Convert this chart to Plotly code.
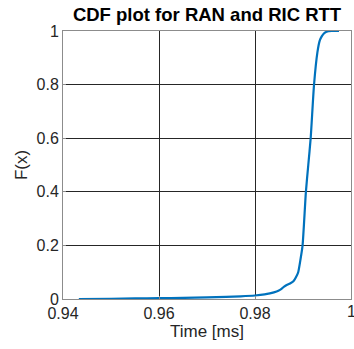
import plotly.graph_objects as go

# CDF curve
time_ms = [0.9433, 0.9500, 0.9550, 0.9600, 0.9650, 0.9700, 0.9740, 0.9770, 0.9800,
           0.9820, 0.9831, 0.9845, 0.9852, 0.9860, 0.9866, 0.9873, 0.9880, 0.9885,
           0.9890, 0.9895, 0.9899, 0.9906, 0.9911, 0.9916, 0.9923, 0.9930, 0.9935,
           0.9939, 0.9943, 0.9949, 0.9960, 0.9975]
cdf = [0.000, 0.001, 0.002, 0.003, 0.004, 0.006, 0.008, 0.010, 0.013,
       0.017, 0.021, 0.028, 0.034, 0.045, 0.052, 0.058, 0.066, 0.080,
       0.100, 0.150, 0.198, 0.399, 0.500, 0.600, 0.800, 0.920, 0.965,
       0.980, 0.990, 0.997, 1.000, 1.000]

x_tick_vals = [0.94, 0.96, 0.98]
x_tick_text = ["0.94", "0.96", "0.98"]
x_last_tick = 1.0
x_last_text = "1"
y_tick_vals = [0, 0.2, 0.4, 0.6, 0.8, 1.0]
y_tick_text = ["0", "0.2", "0.4", "0.6", "0.8", "1"]

fig = go.Figure()
fig.add_trace(go.Scatter(x=time_ms, y=cdf, mode="lines",
                         line=dict(color="#0072BD", width=2.2, shape="spline", smoothing=0.6),
                         showlegend=False))

font_family = "Liberation Sans, Arial, sans-serif"
tick_color = "#262626"
fig.update_layout(
    width=354, height=349,
    margin=dict(l=63, r=3, t=31, b=50),
    paper_bgcolor="white", plot_bgcolor="white",
    font=dict(family=font_family, size=16, color=tick_color),
    title=dict(text="<b>CDF plot for RAN and RIC RTT</b>", x=207/354, xanchor="center",
               y=1 - 15/349, yanchor="middle",
               font=dict(family=font_family, size=18.5, color="#000000")),
)
# last x tick label sits at the right edge and is partly cut, as in the reference
fig.add_annotation(x=x_last_tick, y=0, xref="x", yref="paper", text=x_last_text,
                   showarrow=False, xanchor="center", yanchor="top", yshift=-2,
                   font=dict(family=font_family, size=16, color=tick_color))
fig.update_xaxes(range=[0.94, 1.0], tickvals=x_tick_vals + [x_last_tick],
                 ticktext=x_tick_text + [""],
                 showgrid=True, gridcolor="#262626", gridwidth=1,
                 showline=True, linecolor="#8c8c8c", linewidth=1, mirror=True,
                 zeroline=False, ticks="inside", ticklen=3, tickcolor="#8c8c8c",
                 title=dict(text="Time [ms]", font=dict(size=17, color=tick_color), standoff=2),
                 tickfont=dict(size=16, color=tick_color))
fig.update_yaxes(range=[0, 1.0], tickvals=y_tick_vals, ticktext=y_tick_text,
                 showgrid=True, gridcolor="#262626", gridwidth=1,
                 showline=True, linecolor="#8c8c8c", linewidth=1, mirror=True,
                 zeroline=False, ticks="inside", ticklen=3, tickcolor="#8c8c8c",
                 title=dict(text="F(x)", font=dict(size=17, color=tick_color), standoff=4),
                 tickfont=dict(size=16, color=tick_color))

fig.write_html("out.html")
